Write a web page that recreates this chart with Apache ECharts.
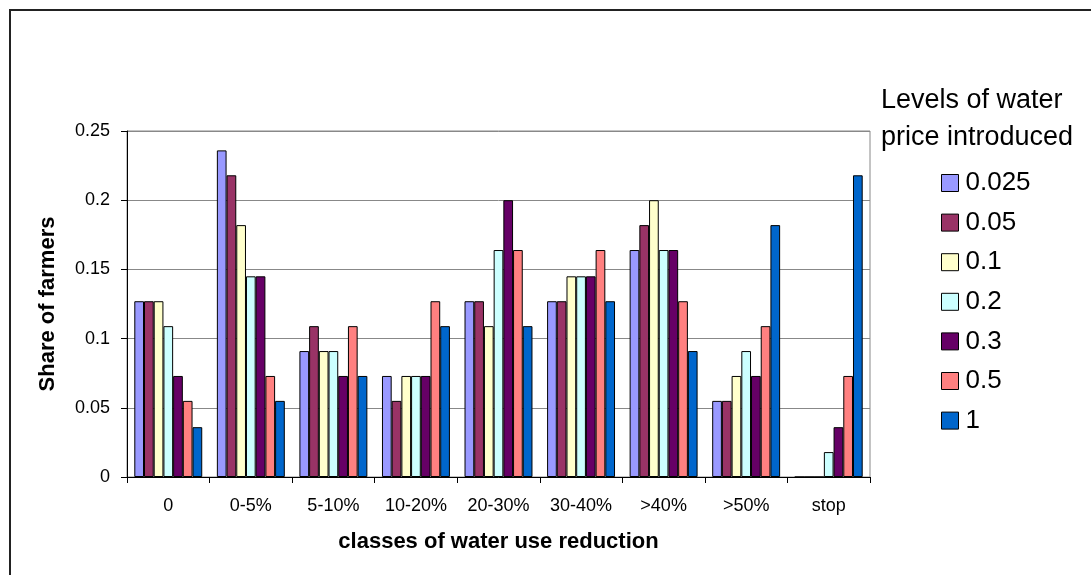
<!DOCTYPE html>
<html>
<head>
<meta charset="utf-8">
<script src="https://cdn.jsdelivr.net/npm/echarts@6/dist/echarts.min.js"></script>
<style>
  html, body { margin: 0; padding: 0; background: #fff; }
  #chart { width: 1091px; height: 575px; }
</style>
</head>
<body>
<div id="chart"></div>
<script>
// Classes of water use reduction (x axis)
const categories = ['0', '0-5%', '5-10%', '10-20%', '20-30%', '30-40%', '>40%', '>50%', 'stop'];

// Water price levels (legend)
const priceLevels = ['0.025', '0.05', '0.1', '0.2', '0.3', '0.5', '1'];

// Share of farmers per class, one array per price level
const share_0025 = [0.127, 0.236, 0.091, 0.073, 0.127, 0.127, 0.164, 0.055, 0];
const share_005  = [0.127, 0.218, 0.109, 0.055, 0.127, 0.127, 0.182, 0.055, 0];
const share_01   = [0.127, 0.182, 0.091, 0.073, 0.109, 0.145, 0.200, 0.073, 0];
const share_02   = [0.109, 0.145, 0.091, 0.073, 0.164, 0.145, 0.164, 0.091, 0.018];
const share_03   = [0.073, 0.145, 0.073, 0.073, 0.200, 0.145, 0.164, 0.073, 0.036];
const share_05   = [0.055, 0.073, 0.109, 0.127, 0.164, 0.164, 0.127, 0.109, 0.073];
const share_1    = [0.036, 0.055, 0.073, 0.109, 0.109, 0.127, 0.091, 0.182, 0.218];

const seriesValues = [share_0025, share_005, share_01, share_02, share_03, share_05, share_1];
const seriesColors = ['#9999FF', '#993366', '#FFFFCC', '#CCFFFF', '#660066', '#FF8080', '#0066CC'];

// Y axis ticks
const yTicks = [0, 0.05, 0.1, 0.15, 0.2, 0.25];

const FONT = '"Liberation Sans", Arial, Helvetica, sans-serif';

const chart = echarts.init(document.getElementById('chart'), null, { renderer: 'canvas' });

chart.setOption({
  backgroundColor: '#ffffff',
  animation: false,
  textStyle: { fontFamily: FONT, color: '#000' },
  graphic: [{
    type: 'rect',
    shape: { x: 10, y: 10, width: 1200, height: 700 },
    style: { fill: 'none', stroke: '#222', lineWidth: 2 },
    silent: true,
    z: 0
  }],
  title: {
    text: 'Levels of water\nprice introduced',
    left: 881,
    top: 82,
    padding: 0,
    textStyle: { fontFamily: FONT, fontSize: 27, fontWeight: 'normal', color: '#000', lineHeight: 37 }
  },
  legend: {
    orient: 'vertical',
    left: 941,
    top: 170,
    padding: 0,
    itemWidth: 17,
    itemHeight: 17,
    itemGap: 13.6,
    icon: 'rect',
    data: priceLevels,
    itemStyle: { borderColor: '#000', borderWidth: 1 },
    textStyle: { fontFamily: FONT, fontSize: 26, color: '#000', padding: [0, 0, 0, 2] }
  },
  grid: {
    left: 127,
    top: 131,
    right: 221,
    bottom: 98,
    show: true,
    borderColor: '#888',
    borderWidth: 1,
    containLabel: false
  },
  xAxis: {
    type: 'category',
    data: categories,
    boundaryGap: true,
    axisLine: { lineStyle: { color: '#000', width: 1 } },
    axisTick: { show: true, alignWithLabel: false, length: 6, lineStyle: { color: '#000' } },
    axisLabel: { fontFamily: FONT, fontSize: 18, color: '#000', margin: 20, interval: 0 },
    name: 'classes of water use reduction',
    nameLocation: 'middle',
    nameGap: 54,
    nameTextStyle: { fontFamily: FONT, fontSize: 22, fontWeight: 'bold', color: '#000' }
  },
  yAxis: {
    type: 'value',
    min: yTicks[0],
    max: yTicks[yTicks.length - 1],
    interval: yTicks[1] - yTicks[0],
    axisLine: { show: true, lineStyle: { color: '#000', width: 1 } },
    axisTick: { show: true, length: 6, lineStyle: { color: '#000' } },
    axisLabel: {
      fontFamily: FONT, fontSize: 18, color: '#000', margin: 17,
      formatter: v => String(parseFloat(v.toFixed(3)))
    },
    splitLine: { show: true, lineStyle: { color: '#888', width: 1 } },
    name: 'Share of farmers',
    nameLocation: 'middle',
    nameGap: 68,
    nameTextStyle: { fontFamily: FONT, fontSize: 22, fontWeight: 'bold', color: '#000' }
  },
  series: priceLevels.map((name, i) => ({
    name: name,
    type: 'bar',
    data: seriesValues[i],
    barGap: '0%',
    barCategoryGap: '17.7%',
    itemStyle: { color: seriesColors[i], borderColor: '#000', borderWidth: 1 }
  }))
});
</script>
</body>
</html>
